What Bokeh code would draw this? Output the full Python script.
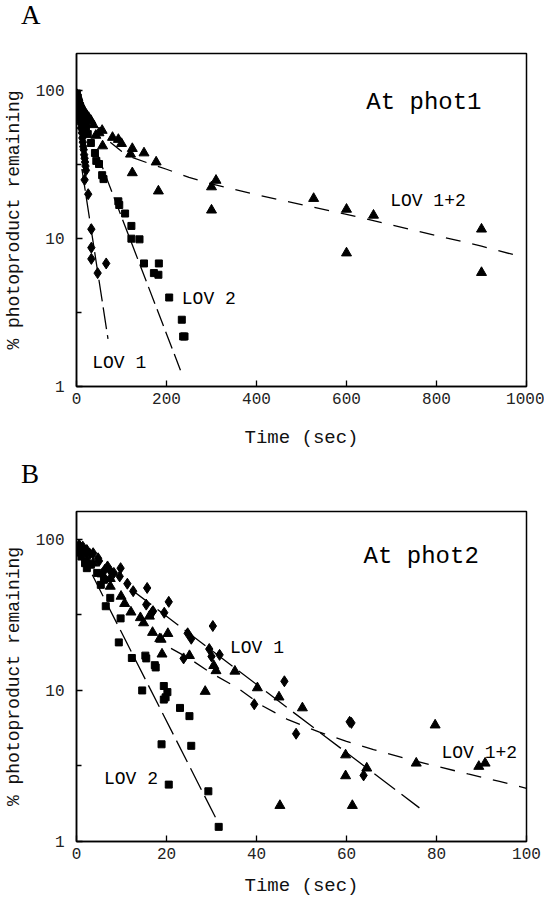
from bokeh.plotting import figure
from bokeh.models import Label, FixedTicker, Range1d, Div
from bokeh.layouts import column
from bokeh.embed import file_html
from bokeh.resources import INLINE

# ---------------- Panel A (At phot1) ----------------
a_lov1_t = [0.5, 1.5, 3, 4, 5, 6, 8, 10, 12, 13, 14, 15, 16, 17, 18, 19, 20, 21, 18, 26, 33, 33, 33, 47, 66]
a_lov1_v = [95, 88, 82, 76, 71, 66, 61, 56, 52, 48, 45, 42, 40, 37, 35, 33, 31, 29, 25, 20, 11.6, 8.7, 7.3, 5.85, 6.8]

a_lov2_t = [1, 3, 5, 7, 10, 13, 17, 21, 25, 32, 41, 44, 50, 57, 60, 93, 95, 108, 122, 122, 140, 150, 172, 182, 183, 206, 234, 237, 240]
a_lov2_v = [96, 90, 84, 79, 72, 66, 61, 57, 51, 44.4, 38, 33.6, 32, 26.9, 25.3, 17.9, 16.9, 14.8, 12.2, 10, 9.9, 6.8, 5.85, 5.7, 6.8, 4.0, 2.83, 2.18, 2.18]

a_lov12_t = [1, 3, 5, 8, 11, 14, 18, 22, 27, 32, 37, 43, 50, 57, 58, 80, 93, 100, 120, 124, 124, 150, 177, 182, 300, 310, 300, 527, 600, 600, 660, 900, 900]
a_lov12_v = [94, 90, 86, 82, 78, 75, 72, 69, 66, 63, 59, 50, 52, 54, 42.4, 48.4, 46.9, 44, 37.3, 40.7, 27.9, 38, 33, 21, 22.4, 24.8, 15.6, 18.7, 15.8, 8.0, 14.4, 11.6, 5.9]

# fitted curves
a_fit1_t = [12, 70]
a_fit1_v = [29.6, 2.1]
a_fit2_t = [45, 231]
a_fit2_v = [38.3, 1.29]
a_fit12_t = [75, 100, 125, 160, 200, 250, 300, 400, 500, 600, 700, 800, 900, 985]
a_fit12_v = [45, 39, 35.4, 32.4, 29.5, 26, 23.5, 19.8, 17, 14.6, 12.4, 10.5, 8.9, 7.6]

a_xticks = [0, 200, 400, 600, 800, 1000]

# ---------------- Panel B (At phot2) ----------------
b_lov1_t = [0.6, 1.0, 1.4, 2.0, 2.3, 3.0, 3.7, 4.8, 5.0, 6.3, 6.9, 7.5, 8.3, 9.6, 9.8, 11.3, 12.6, 15.5, 15.7, 16.9, 17.0, 19.5, 20.5,
            23.8, 24.7, 25.5, 29.5, 30, 30.3, 31.8, 39.5, 46.2, 48.8, 60.7, 61.1, 63.8]
b_lov1_v = [91.8, 88, 89.5, 84, 85, 80, 81, 75, 72, 63, 66.2, 62, 60, 56.9, 64.5, 50.9, 45.4, 37, 47.7, 33.2, 33.5, 32.7, 38.6,
            16.3, 23.9, 22, 18.8, 16.8, 26.7, 17.2, 8.1, 11.5, 5.17, 6.2, 6.1, 2.74]

b_lov2_t = [0.6, 1.1, 1.9, 2.3, 3.2, 4.6, 5.4, 6.1, 6.5, 7.5, 9.4, 9.8, 12.3, 14.6, 15.3, 15.5, 17.4, 17.6, 18.9, 19.4, 19.4, 19.8,
            20.2, 20.5, 23, 25.1, 25.5, 29.3, 31.6]
b_lov2_v = [85, 77, 69.6, 64.5, 68, 60, 50, 54, 36.1, 41, 20.8, 30, 16.4, 10, 17, 16.3, 14.7, 14.2, 4.4, 10.7, 8.7, 9.0,
            9.75, 2.38, 7.66, 6.76, 4.3, 2.15, 1.25]

b_lov12_t = [0.4, 1.1, 2.3, 3.7, 5.7, 7.5, 7.5, 9.9, 10.7, 12.1, 14.2, 14.9, 16.2, 16.9, 18.5, 18.8, 19, 20.3, 25.1, 28.6, 30.5,
             31, 35.2, 40.2, 45, 45.2, 50.2, 59.8, 59.8, 61.3, 64.5, 75.5, 79.7, 89.4, 90.8]
b_lov12_v = [89, 81, 73, 69.6, 59, 55, 48.9, 42, 37.6, 33, 30.3, 28, 31, 24.2, 22, 21.8, 17.4, 23.8, 17, 9.85, 14.6,
             13.5, 13.4, 10.4, 9.04, 1.73, 7.66, 3.74, 2.72, 1.73, 3.06, 3.3, 5.9, 3.14, 3.3]

b_fit1_t = [12, 76.2]
b_fit1_v = [47, 1.67]
b_fit2_t = [3.5, 31.6]
b_fit2_v = [58.3, 1.31]
b_fit12_t = [21, 25, 30, 36, 41, 47, 54, 60, 66, 73, 80, 87, 94, 100]
b_fit12_v = [19, 16.3, 13, 10.3, 8.0, 6.4, 5.3, 4.6, 4.06, 3.55, 3.15, 2.8, 2.5, 2.25]

b_xticks = [0, 20, 40, 60, 80, 100]

y_ticks = [1, 10, 100]
y_minor = [3.162, 31.62]

MONO = "Liberation Mono"
SERIF = "Liberation Serif"


def letter_div(letter, height, top_pad):
    html = ('<div style="font-family: \'Liberation Serif\', serif; font-size: 27px; line-height: 30px; '
            'padding-left: 21px; padding-top: %dpx; color: black; white-space: nowrap;">%s</div>' % (top_pad, letter))
    return Div(text=html, width=544, height=height, margin=0)


def make_panel(height, x_end, y_end, xticks, borders, xlabel_standoff):
    left, right, top, bottom = borders
    p = figure(width=544, height=height, title=None,
               x_range=Range1d(0, x_end), y_range=Range1d(1, y_end),
               y_axis_type="log", output_backend="svg", toolbar_location=None,
               min_border_left=left, min_border_right=right,
               min_border_top=top, min_border_bottom=bottom)
    p.grid.visible = False
    p.outline_line_color = "black"
    p.outline_line_width = 1.5
    p.background_fill_color = "white"
    p.border_fill_color = "white"
    p.xaxis.ticker = FixedTicker(ticks=xticks)
    p.yaxis.ticker = FixedTicker(ticks=y_ticks, minor_ticks=y_minor)
    p.yaxis.major_label_overrides = {1: "1", 10: "10", 100: "100"}
    for ax in p.axis:
        ax.axis_line_width = 1.5
        ax.major_tick_in = 6
        ax.major_tick_out = 0
        ax.minor_tick_in = 5
        ax.minor_tick_out = 0
        ax.major_tick_line_width = 1.3
        ax.minor_tick_line_width = 1.3
        ax.major_label_text_font = MONO
        ax.major_label_text_font_size = "16px"
        ax.major_label_text_color = "#222222"
        ax.axis_label_text_font = MONO
        ax.axis_label_text_font_style = "normal"
        ax.axis_label_text_color = "#111111"
    p.xaxis.axis_label = "Time (sec)"
    p.xaxis.axis_label_text_font_size = "19px"
    p.xaxis.major_label_standoff = 6
    p.xaxis.axis_label_standoff = xlabel_standoff
    p.yaxis.axis_label = "% photoproduct remaining"
    p.yaxis.axis_label_text_font_size = "18px"
    p.yaxis.major_label_standoff = 12
    p.yaxis.axis_label_standoff = 9
    return p


def add_label(p, x, y, text, size, font=MONO):
    p.add_layout(Label(x=x, y=y, text=text, text_font=font, text_font_size=size,
                       text_color="black", text_align="left", text_baseline="alphabetic"))


def add_data(p, s1, s2, s12, f1, f2, f12, dashes):
    p.line(f1[0], f1[1], line_color="black", line_width=1.3, line_dash=dashes[0])
    p.line(f2[0], f2[1], line_color="black", line_width=1.3, line_dash=dashes[1])
    p.line(f12[0], f12[1], line_color="black", line_width=1.3, line_dash=dashes[2])
    p.scatter(s12[0], s12[1], marker="triangle", size=10, color="black")
    p.scatter(s2[0], s2[1], marker="square", size=7, color="black")
    p.scatter(s1[0], s1[1], marker="diamond", size=11, color="black")


divA = letter_div("A", 28, 0)

pA = make_panel(424, 1000, 179, a_xticks, (75, 18, 25, 66), 20)
add_data(pA, (a_lov1_t, a_lov1_v), (a_lov2_t, a_lov2_v), (a_lov12_t, a_lov12_v),
         (a_fit1_t, a_fit1_v), (a_fit2_t, a_fit2_v), (a_fit12_t, a_fit12_v),
         ("22 6", "18 6", "15 12"))
add_label(pA, 644, 84, "At phot1", "24px")
add_label(pA, 697, 17.9, "LOV 1+2", "18px")
add_label(pA, 234, 3.92, "LOV 2", "18px")
add_label(pA, 35, 1.44, "LOV 1", "18px")

divB = letter_div("B", 38, 7)

pB = make_panel(409, 100, 153, b_xticks, (76, 15, 21, 55), 13)
add_data(pB, (b_lov1_t, b_lov1_v), (b_lov2_t, b_lov2_v), (b_lov12_t, b_lov12_v),
         (b_fit1_t, b_fit1_v), (b_fit2_t, b_fit2_v), (b_fit12_t, b_fit12_v),
         ("26 8", "24 7", "15 12"))
add_label(pB, 63.8, 76.9, "At phot2", "24px")
add_label(pB, 34.1, 19.1, "LOV 1", "18px")
add_label(pB, 81.1, 3.87, "LOV 1+2", "18px")
add_label(pB, 6.1, 2.6, "LOV 2", "18px")

layout = column(divA, pA, divB, pB, spacing=0)
open("out.html", "w").write(file_html(layout, INLINE))
